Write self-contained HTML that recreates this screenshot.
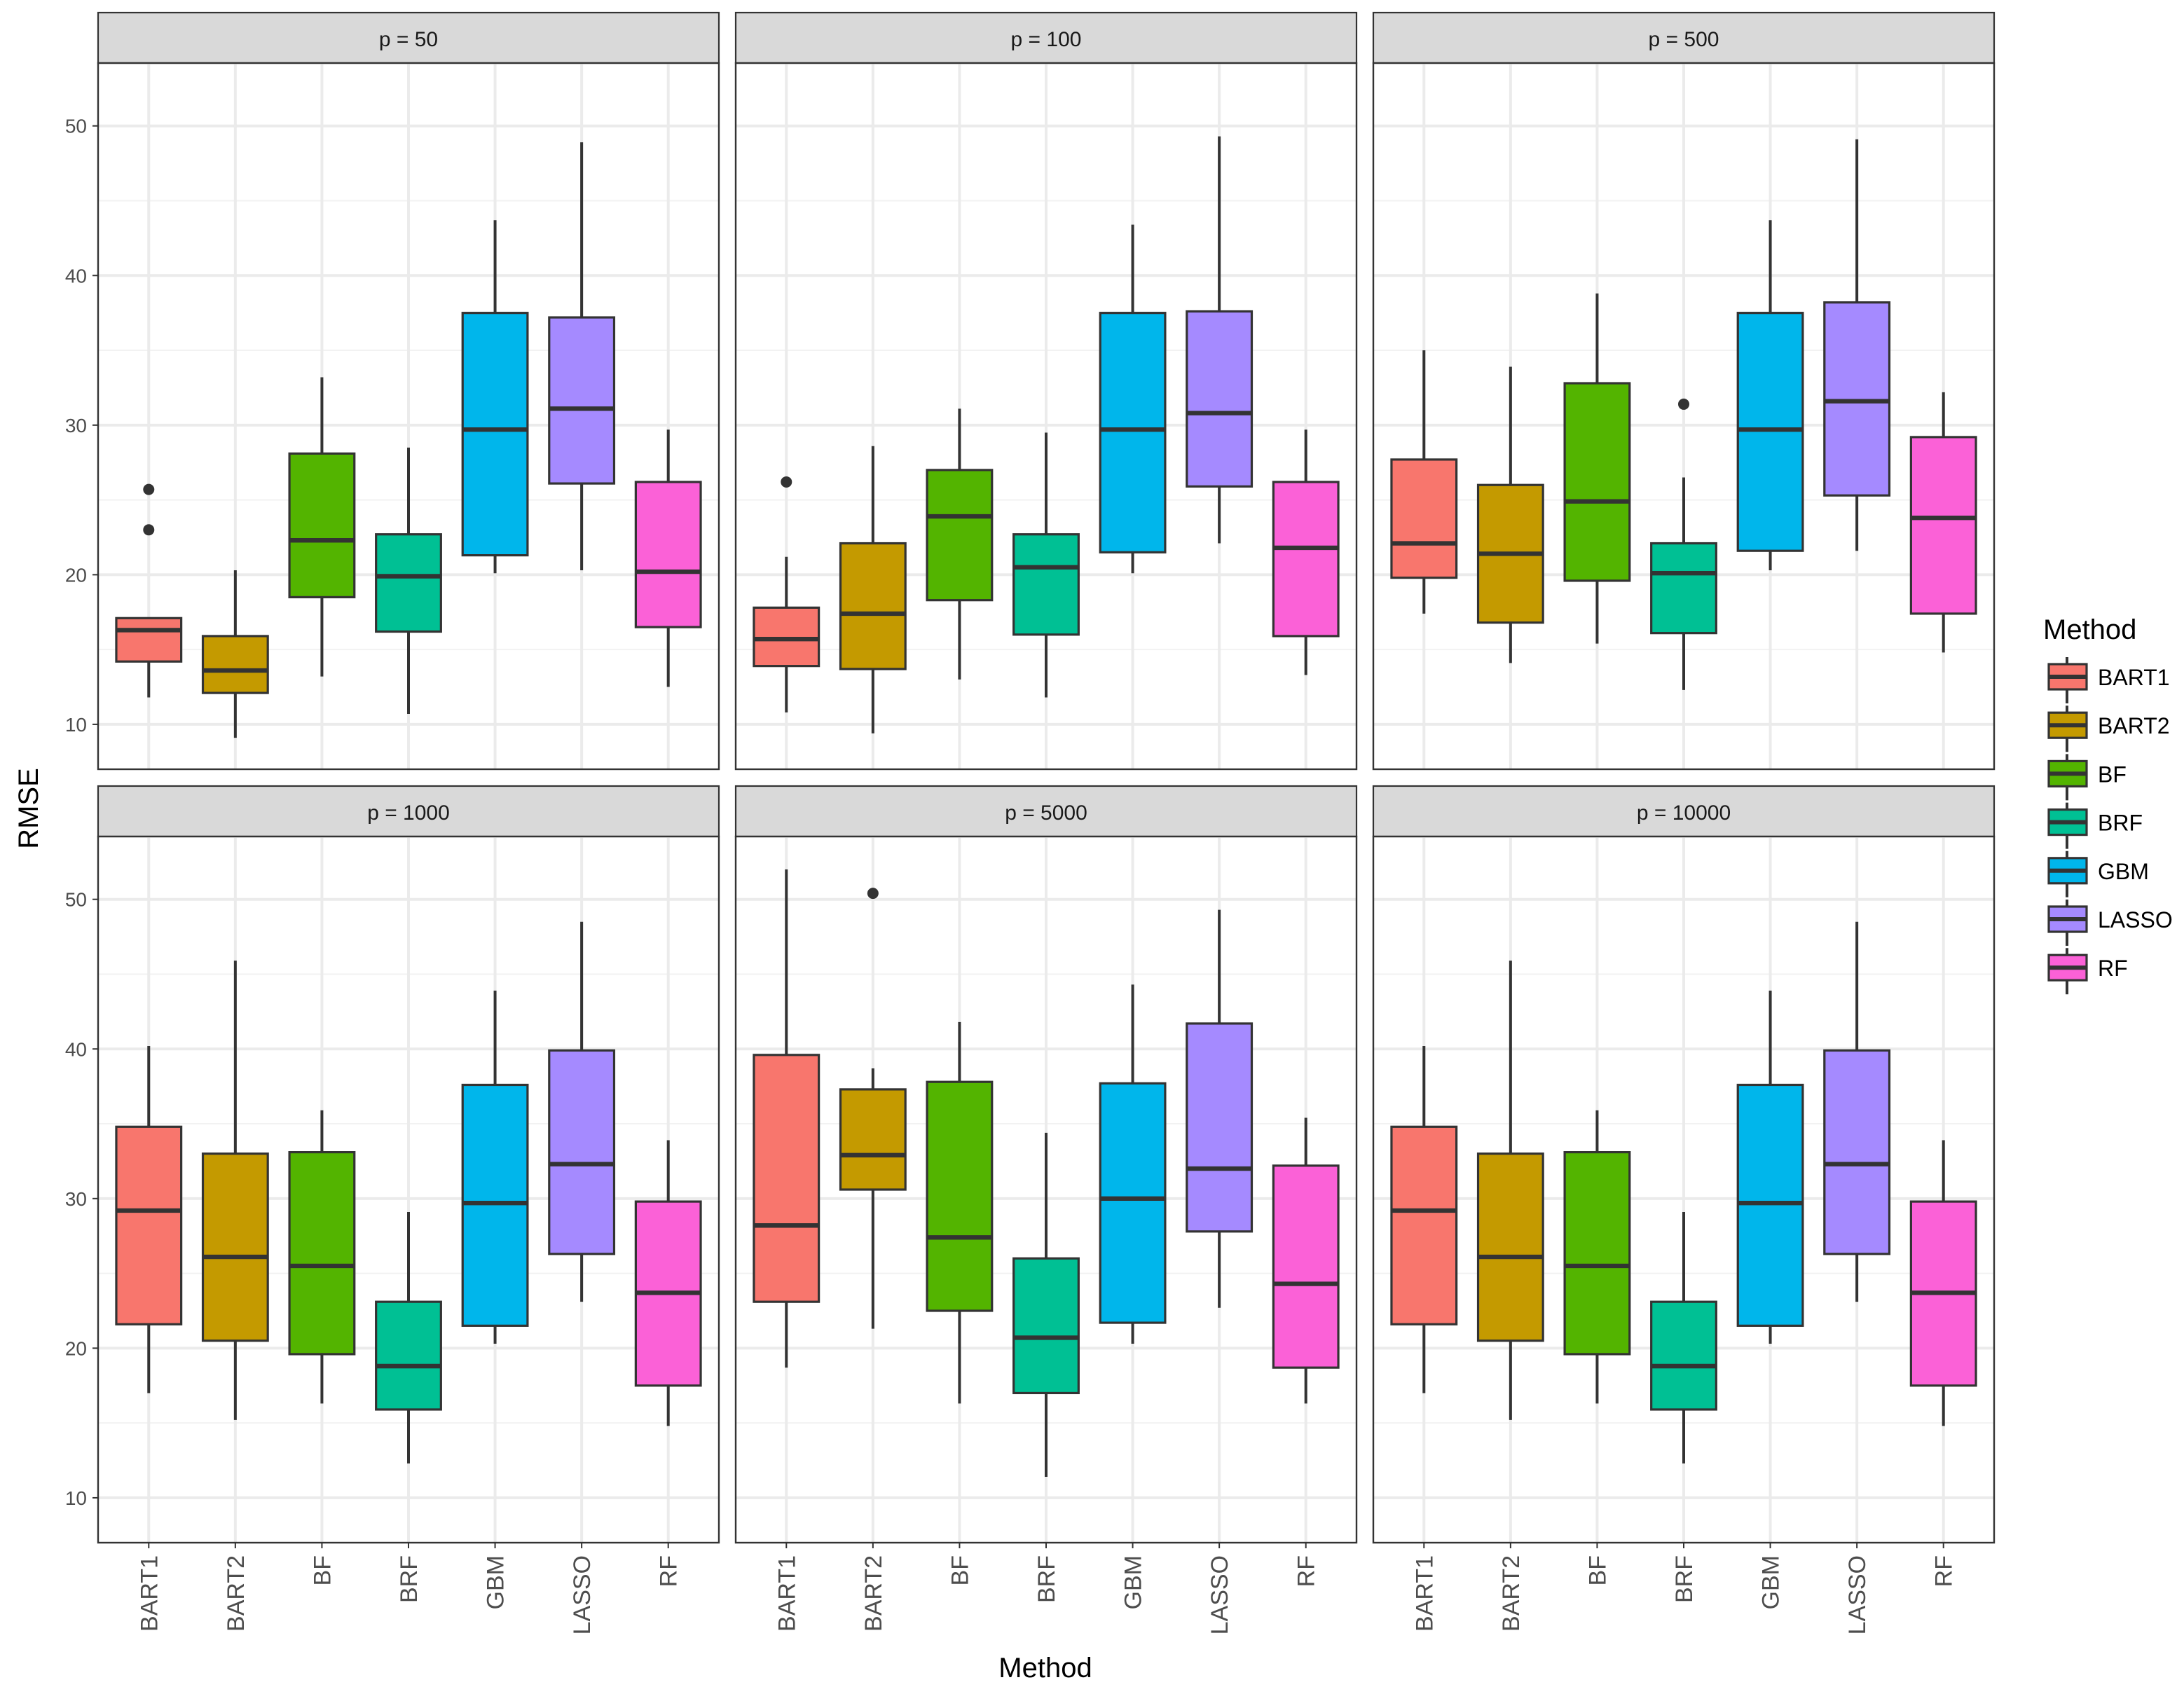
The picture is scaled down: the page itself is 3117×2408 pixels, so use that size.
<!DOCTYPE html>
<html><head><meta charset="utf-8"><style>
html,body{margin:0;padding:0;background:#fff}
svg{display:block;font-family:"Liberation Sans",Arial,sans-serif}
</style></head><body>
<svg id="chart" width="3117" height="2408" viewBox="0 0 1558.5 1204" xmlns="http://www.w3.org/2000/svg"></svg>
<script>
const methods = ["BART1","BART2","BF","BRF","GBM","LASSO","RF"];
const colors = ["#F8766D","#C49A00","#53B400","#00C094","#00B6EB","#A58AFF","#FB61D7"];
const panelTitles = ["p = 50","p = 100","p = 500","p = 1000","p = 5000","p = 10000"];
const yTicks = [10,20,30,40,50];
// each: [lower whisker, q1, median, q3, upper whisker]
const stats_p50 = [[11.8,14.2,16.3,17.1,17.1],[9.1,12.1,13.6,15.9,20.3],[13.2,18.5,22.3,28.1,33.2],[10.7,16.2,19.9,22.7,28.5],[20.1,21.3,29.7,37.5,43.7],[20.3,26.1,31.1,37.2,48.9],[12.5,16.5,20.2,26.2,29.7]];
const stats_p100 = [[10.8,13.9,15.7,17.8,21.2],[9.4,13.7,17.4,22.1,28.6],[13.0,18.3,23.9,27.0,31.1],[11.8,16.0,20.5,22.7,29.5],[20.1,21.5,29.7,37.5,43.4],[22.1,25.9,30.8,37.6,49.3],[13.3,15.9,21.8,26.2,29.7]];
const stats_p500 = [[17.4,19.8,22.1,27.7,35.0],[14.1,16.8,21.4,26.0,33.9],[15.4,19.6,24.9,32.8,38.8],[12.3,16.1,20.1,22.1,26.5],[20.3,21.6,29.7,37.5,43.7],[21.6,25.3,31.6,38.2,49.1],[14.8,17.4,23.8,29.2,32.2]];
const stats_p1000 = [[17.0,21.6,29.2,34.8,40.2],[15.2,20.5,26.1,33.0,45.9],[16.3,19.6,25.5,33.1,35.9],[12.3,15.9,18.8,23.1,29.1],[20.3,21.5,29.7,37.6,43.9],[23.1,26.3,32.3,39.9,48.5],[14.8,17.5,23.7,29.8,33.9]];
const stats_p5000 = [[18.7,23.1,28.2,39.6,52.0],[21.3,30.6,32.9,37.3,38.7],[16.3,22.5,27.4,37.8,41.8],[11.4,17.0,20.7,26.0,34.4],[20.3,21.7,30.0,37.7,44.3],[22.7,27.8,32.0,41.7,49.3],[16.3,18.7,24.3,32.2,35.4]];
const stats_p10000 = [[17.0,21.6,29.2,34.8,40.2],[15.2,20.5,26.1,33.0,45.9],[16.3,19.6,25.5,33.1,35.9],[12.3,15.9,18.8,23.1,29.1],[20.3,21.5,29.7,37.6,43.9],[23.1,26.3,32.3,39.9,48.5],[14.8,17.5,23.7,29.8,33.9]];
const outliers_p50 = [[0,25.7],[0,23.0]];
const outliers_p100 = [[0,26.2]];
const outliers_p500 = [[3,31.4]];
const outliers_p1000 = [];
const outliers_p5000 = [[1,50.4]];
const outliers_p10000 = [];

const allStats=[stats_p50,stats_p100,stats_p500,stats_p1000,stats_p5000,stats_p10000];
const allOut=[outliers_p50,outliers_p100,outliers_p500,outliers_p1000,outliers_p5000,outliers_p10000];
const svg=document.getElementById('chart');
const NS="http://www.w3.org/2000/svg";
function mk(tag,attrs,parent){const e=document.createElementNS(NS,tag);for(const k in attrs)e.setAttribute(k,attrs[k]);(parent||svg).appendChild(e);return e;}
const colX=[70,525,980], pw=443, rowY=[9,561], stripH=36, ph=504;
const yMin=7.0,yMax=54.2;
for(let p=0;p<6;p++){
  const x0=colX[p%3], top=rowY[Math.floor(p/3)], py=top+stripH;
  const g=mk('g',{});
  
  
  const ys=v=>py+(yMax-v)/(yMax-yMin)*ph;
  const xs=i=>x0+pw*(0.5+i)/(methods.length+0.0)*(methods.length)/(methods.length+0.2)+pw*0.1/(methods.length+0.2)*0;
  const step=pw/7.17, off=(pw-step*6)/2;
  const xc=i=>x0+off+i*step;
  // strip
  const s=mk('rect',{x:x0,y:top,width:pw,height:stripH,fill:'#d9d9d9',stroke:'#333','stroke-width':1.1},g);
  
  const st=mk('text',{x:x0+pw/2,y:top+24,'text-anchor':'middle','font-size':15,fill:'#1a1a1a'},g);st.textContent=panelTitles[p];
  
  // grid
  for(let v=15;v<=45;v+=10) mk('line',{x1:x0,x2:x0+pw,y1:ys(v),y2:ys(v),stroke:'#f2f2f2','stroke-width':1},g);
  yTicks.forEach(v=>mk('line',{x1:x0,x2:x0+pw,y1:ys(v),y2:ys(v),stroke:'#ebebeb','stroke-width':2},g));
  methods.forEach((m,i)=>mk('line',{x1:xc(i),x2:xc(i),y1:py,y2:py+ph,stroke:'#ebebeb','stroke-width':2},g));
  // boxes
  const bw=step*0.75;
  allStats[p].forEach((d,i)=>{
    const bg=mk('g',{},g);
    
    
    mk('line',{x1:xc(i),x2:xc(i),y1:ys(d[0]),y2:ys(d[4]),stroke:'#333','stroke-width':2},bg);
    mk('rect',{x:xc(i)-bw/2,y:ys(d[3]),width:bw,height:ys(d[1])-ys(d[3]),fill:colors[i],stroke:'#333','stroke-width':1.6},bg);
    mk('line',{x1:xc(i)-bw/2,x2:xc(i)+bw/2,y1:ys(d[2]),y2:ys(d[2]),stroke:'#333','stroke-width':3.2},bg);
  });
  allOut[p].forEach(o=>{const c=mk('circle',{cx:xc(o[0]),cy:ys(o[1]),r:4,fill:'#333'},g);});
  mk('rect',{x:x0,y:py,width:pw,height:ph,fill:'none',stroke:'#333','stroke-width':1.2},g);
  // y ticks
  if(p%3===0){yTicks.forEach(v=>{mk('line',{x1:x0-4,x2:x0,y1:ys(v),y2:ys(v),stroke:'#333','stroke-width':1},g);
    const t=mk('text',{x:x0-8,y:ys(v)+5,'text-anchor':'end','font-size':14,fill:'#4d4d4d'},g);t.textContent=v;
    });}
  if(p>=3){methods.forEach((m,i)=>{mk('line',{x1:xc(i),x2:xc(i),y1:py+ph,y2:py+ph+4,stroke:'#333','stroke-width':1},g);
    const t=mk('text',{x:0,y:0,'text-anchor':'end','font-size':17,fill:'#4d4d4d',transform:`translate(${xc(i)+6},${py+ph+9}) rotate(-90)`},g);t.textContent=m;
    });}
}
let t=mk('text',{x:746,y:1204-7,'text-anchor':'middle','font-size':20,fill:'#000'});t.textContent='Method';

t=mk('text',{x:0,y:0,'text-anchor':'middle','font-size':20,fill:'#000',transform:'translate(27,577) rotate(-90)'});t.textContent='RMSE';

const lg=mk('g',{});
t=mk('text',{x:1458,y:456,'font-size':20,fill:'#000'},lg);t.textContent='Method';
methods.forEach((m,i)=>{const y=474+i*34.6;
  const e=mk('g',{},lg);
  mk('line',{x1:1475,x2:1475,y1:y-5,y2:y+28,stroke:'#333','stroke-width':2},e);
  mk('rect',{x:1462,y:y,width:27,height:18,fill:colors[i],stroke:'#333','stroke-width':1.6},e);
  mk('line',{x1:1462,x2:1489,y1:y+9,y2:y+9,stroke:'#333','stroke-width':3},e);
  const tt=mk('text',{x:1497,y:y+15,'font-size':16,fill:'#000'},e);tt.textContent=m;});
</script>
</body></html>
